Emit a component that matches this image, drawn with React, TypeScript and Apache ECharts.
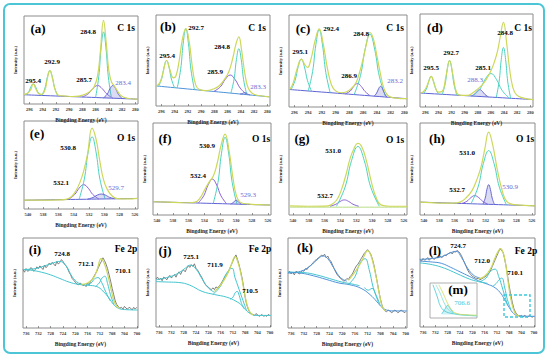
import React, { useEffect, useRef } from "react";
import * as echarts from "echarts";

// ---------- tick labels ----------
const C1S_TICKS = [296, 294, 292, 290, 288, 286, 284, 282, 280];
const O1S_TICKS = [540, 538, 536, 534, 532, 530, 528, 526];
const FE2P_TICKS = [736, 732, 728, 724, 720, 716, 712, 708, 704, 700];

// ---------- (a) C 1s ----------
const A_BG = [[296.8, 10.5], [279.6, 5.5]];
const A_P1 = [[296.5, 10.4], [296.06, 14.3], [295.73, 20], [295.4, 23], [295.07, 19.8], [294.74, 14.1], [294.3, 10]];
const A_P2 = [[294.1, 9.8], [293.62, 18.6], [293.26, 31.1], [292.9, 38], [292.54, 31.1], [292.18, 18.6], [291.7, 9.1]];
const A_P3 = [[288.0, 8.1], [287.08, 11.7], [286.39, 17.7], [285.7, 21], [285.01, 17.5], [284.32, 11.5], [283.4, 6.6]];
const A_P4 = [[286.0, 7.4], [285.52, 31], [285.16, 64], [284.8, 82], [284.44, 64], [284.08, 31], [283.6, 6.7]];
const A_P5 = [[284.8, 7], [284.24, 11.2], [283.82, 17.5], [283.4, 21], [282.98, 17.5], [282.56, 11.1], [282.0, 6.2]];
const A_ENV = [[296.8, 11], [296.2, 12.5], [295.8, 16], [295.4, 23], [295.0, 17], [294.6, 12], [294.1, 11], [293.6, 17], [293.3, 28], [292.9, 38], [292.5, 29], [292.1, 16], [291.6, 10], [290.5, 9], [289.5, 8.5], [288.5, 9], [287.6, 11], [286.8, 14.5], [286.2, 20], [285.7, 32], [285.3, 58], [284.8, 95], [284.4, 70], [284.0, 38], [283.6, 25], [283.2, 21], [282.7, 15], [282.1, 9], [281.2, 6.5], [279.6, 5.5]];

// ---------- (b) C 1s ----------
const B_BG = [[296.7, 22], [279.6, 10]];
const B_P1 = [[296.4, 21.8], [295.92, 30.6], [295.56, 43.4], [295.2, 50], [294.84, 42.9], [294.48, 29.7], [294.0, 20.1]];
const B_P2 = [[293.6, 19.8], [293.08, 40.3], [292.69, 69.2], [292.3, 85], [291.91, 68.9], [291.52, 39.6], [291.0, 18]];
const B_P3 = [[288.1, 16], [287.1, 21], [286.35, 29.3], [285.6, 34], [284.85, 28.9], [284.1, 19.7], [283.1, 12.5]];
const B_P4 = [[285.5, 14.2], [285.02, 29.5], [284.66, 51.3], [284.3, 63], [283.94, 50.9], [283.58, 28.8], [283.1, 12.5]];
const B_P5 = [[284.1, 13.2], [283.8, 13.6], [283.6, 14.4], [283.4, 14.8], [283.2, 14.2], [283.0, 13.2], [282.6, 12.1]];
const B_ENV = [[296.7, 22], [296.2, 26], [295.7, 38], [295.2, 50], [294.7, 40], [294.2, 31], [293.8, 33], [293.3, 50], [292.8, 74], [292.3, 85], [291.8, 71], [291.3, 42], [290.8, 23], [290.2, 18], [289.2, 17], [288.2, 18.5], [287.3, 22], [286.5, 29], [285.8, 38], [285.2, 53], [284.7, 69], [284.3, 76], [283.9, 62], [283.4, 36], [282.9, 20], [282.3, 14], [281.3, 11.5], [279.6, 10]];

// ---------- (c) C 1s ----------
const C_BG = [[296.7, 19], [279.6, 9]];
const C_P1 = [[296.5, 18.8], [295.9, 29.3], [295.45, 44], [295.0, 52], [294.55, 43.6], [294.1, 28.6], [293.5, 17.1]];
const C_P2 = [[294.0, 17.4], [293.36, 38.5], [292.88, 68], [292.4, 84], [291.92, 67.6], [291.44, 37.7], [290.8, 15.6]];
const C_P3 = [[288.6, 14.3], [287.88, 17.3], [287.34, 22.5], [286.8, 25.5], [286.26, 22.3], [285.72, 16.9], [285.0, 12.4]];
const C_P4 = [[287.3, 13.6], [286.38, 34.2], [285.69, 63.3], [285.0, 79], [284.31, 62.7], [283.62, 32.9], [282.7, 10.8]];
const C_P5 = [[284.4, 11.8], [284.02, 15.2], [283.74, 19.9], [283.45, 22.5], [283.16, 19.7], [282.88, 14.7], [282.5, 10.6]];
const C_ENV = [[296.7, 19], [296.2, 26], [295.6, 42], [295.0, 52], [294.5, 46], [294.1, 43], [293.6, 52], [293.0, 72], [292.4, 85], [291.8, 68], [291.2, 42], [290.6, 24], [290.0, 17.5], [289.2, 15.5], [288.4, 16.5], [287.6, 21], [287.0, 27], [286.5, 38], [286.0, 52], [285.5, 69], [285.0, 81], [284.5, 74], [284.0, 56], [283.5, 37], [283.0, 21], [282.4, 12.5], [281.4, 10], [279.6, 9]];

// ---------- (d) C 1s ----------
const D_BG = [[296.7, 15], [279.6, 8]];
const D_P1 = [[296.2, 14.8], [295.76, 20.6], [295.43, 28.6], [295.1, 33], [294.77, 28.4], [294.44, 20.2], [294.0, 14]];
const D_P2 = [[293.4, 13.7], [292.96, 25.2], [292.63, 41.3], [292.3, 50], [291.97, 41.1], [291.64, 24.8], [291.2, 12.8]];
const D_P3 = [[289.0, 11.9], [288.48, 13.9], [288.09, 17], [287.7, 18.7], [287.31, 16.8], [286.92, 13.5], [286.4, 10.9]];
const D_P4 = [[288.8, 11.8], [287.68, 19.3], [286.84, 30.3], [286.0, 36], [285.16, 29.6], [284.32, 18], [283.2, 9.5]];
const D_P5 = [[285.2, 10.3], [284.76, 27.2], [284.43, 51], [284.1, 64], [283.77, 51], [283.44, 27], [283.0, 9.4]];
const D_ENV = [[296.7, 15], [296.2, 17], [295.6, 25], [295.1, 33], [294.6, 24], [294.0, 16], [293.4, 17], [292.85, 33], [292.3, 50], [291.75, 33], [291.2, 15], [290.5, 12.5], [289.6, 12.5], [288.8, 15], [288.0, 19.5], [287.3, 24], [286.6, 31], [286.0, 39], [285.5, 48], [285.0, 60], [284.6, 75], [284.1, 91], [283.6, 68], [283.2, 43], [282.7, 22], [282.1, 13], [281.0, 9.5], [279.6, 8]];

// ---------- (e) O 1s ----------
const E_BG = [[540.5, 10], [525.6, 12]];
const E_P1 = [[534.7, 10.8], [533.9, 16.2], [533.3, 23.6], [532.7, 27.6], [532.1, 23.6], [531.5, 16.4], [530.7, 11.3]];
const E_P2 = [[533.3, 10.9], [532.62, 33.8], [532.11, 65], [531.6, 82], [531.09, 65], [530.58, 34], [529.9, 11.4]];
const E_P3 = [[532.2, 11.2], [531.48, 13.1], [530.94, 15.7], [530.4, 17], [529.86, 15.8], [529.32, 13.3], [528.6, 11.6]];
const E_ENV = [[540.5, 10], [538, 10], [536, 10.3], [535, 11], [534.3, 14], [533.7, 21], [533.2, 30], [532.7, 43], [532.2, 62], [531.6, 92], [531.1, 80], [530.6, 55], [530.1, 33], [529.6, 22], [529.0, 15], [528.3, 11.8], [527.2, 11.4], [525.6, 12]];

// ---------- (f) O 1s ----------
const F_BG = [[540.5, 14.4], [525.7, 10.8]];
const F_P1 = [[534.8, 13], [534.08, 21.1], [533.54, 32.7], [533.0, 39], [532.46, 32.6], [531.92, 20.9], [531.2, 12.2]];
const F_P2 = [[532.9, 12.5], [532.3, 35.3], [531.85, 67.1], [531.4, 84.5], [530.95, 67.1], [530.5, 35.3], [529.9, 11.8]];
const F_P3 = [[530.7, 11.9], [530.42, 13.1], [530.21, 15], [530.0, 16], [529.79, 15], [529.58, 13.1], [529.3, 11.6]];
const F_ENV = [[540.5, 14.4], [538, 13.8], [536, 13.3], [535.2, 14], [534.6, 18], [534.0, 27], [533.4, 36], [532.9, 42], [532.4, 56], [531.9, 76], [531.4, 88], [530.9, 70], [530.4, 40], [530.0, 22], [529.5, 14], [528.5, 12], [527.0, 11.2], [525.7, 10.8]];

// ---------- (g) O 1s ----------
const G_BG = [[540.5, 8.5], [525.6, 8.5]];
const G_P1 = [[535.3, 9.5], [534.58, 11.7], [534.04, 14.7], [533.5, 16.4], [532.96, 14.7], [532.42, 11.7], [531.7, 9.5]];
const G_P2 = [[534.5, 9.5], [533.42, 30.3], [532.61, 58.9], [531.8, 74.5], [530.99, 58.9], [530.18, 30.3], [529.1, 9.5]];
const G_ENV = [[540.5, 10], [538, 9.5], [536, 9.6], [535.2, 11], [534.5, 16], [533.9, 27], [533.3, 44], [532.8, 61], [532.3, 72], [531.8, 78], [531.3, 74], [530.7, 58], [530.1, 36], [529.5, 19], [528.9, 11], [527.8, 9.5], [525.6, 9.5]];

// ---------- (h) O 1s ----------
const H_BG = [[540.5, 14], [525.6, 10]];
const H_P1 = [[535.1, 12.5], [534.42, 14.9], [533.91, 18.9], [533.4, 21], [532.89, 18.9], [532.38, 14.9], [531.7, 11.6]];
const H_P2 = [[533.9, 12.2], [532.98, 30.3], [532.29, 56], [531.6, 70], [530.91, 56], [530.22, 30.3], [529.3, 11]];
const H_P3 = [[532.35, 11.8], [532.05, 18.4], [531.83, 27.9], [531.6, 33], [531.38, 27.9], [531.15, 18.4], [530.85, 11.4]];
const H_ENV = [[540.5, 14], [538, 13], [536.2, 12.8], [535.3, 14], [534.6, 18], [533.8, 26], [533.2, 37], [532.6, 52], [532.1, 72], [531.6, 90], [531.1, 77], [530.5, 50], [529.9, 28], [529.3, 15], [528.5, 11.5], [527.0, 10.5], [525.6, 10]];

// ---------- Fe 2p raw energies ----------
const FE_RAW_E = [737, 736.5, 736, 735.5, 735, 734.5, 734, 733.5, 733, 732.5, 732, 731.5, 731, 730.5, 730, 729.5, 729, 728.5, 728, 727.5, 727, 726.5, 726, 725.5, 725, 724.5, 724, 723.5, 723, 722.5, 722, 721.5, 721, 720.5, 720, 719.5, 719, 718.5, 718, 717.5, 717, 716.5, 716, 715.5, 715, 714.5, 714, 713.5, 713, 712.5, 712, 711.5, 711, 710.5, 710, 709.5, 709, 708.5, 708, 707.5, 707, 706.5, 706, 705.5, 705, 704.5, 704, 703.5, 703, 702.5, 702, 701.5, 701, 700.5, 700];

// ---------- (i) Fe 2p ----------
const I_RAW = [65, 62, 66, 63, 64, 67, 66, 63, 65, 68, 66, 69, 67, 65, 70, 67, 69, 72, 70, 73, 71, 69, 74, 71, 73, 76, 74, 71, 69, 66, 62, 59, 55, 53, 51, 49, 48, 50, 49, 47, 48, 46, 50, 48, 52, 54, 57, 60, 63, 67, 71, 74, 78, 75, 71, 66, 59, 52, 44, 37, 30, 26, 24, 22, 23, 21, 24, 22, 21, 23, 22, 20, 23, 21, 23];
const I_SAT = [[737, 65], [733, 66], [730, 69], [727, 72.5], [725, 74], [723, 69], [721, 57], [719, 50], [717, 48]];
const I_BG = [[737, 65], [734, 64], [731, 62], [728, 59], [725, 55], [722, 51], [719, 48.5], [716, 47.5], [713, 46], [711, 41], [709, 33], [707.5, 26], [706, 22], [704, 20.5], [699.6, 20]];
const I_P1 = [[716.5, 47.5], [714.9, 50], [713.8, 54.4], [712.6, 56], [711.4, 50.4], [710.2, 41], [708.6, 30]];
const I_P2 = [[713.4, 46], [712.2, 50], [711.3, 55.5], [710.4, 57.5], [709.5, 49.5], [708.6, 37.4], [707.4, 26]];
const I_ENV = [[718, 48.5], [716, 50], [714, 56], [712.8, 66], [711.6, 77], [710.6, 72], [709.5, 60], [708.5, 45], [707.5, 31], [706.5, 24], [705.5, 22]];

// ---------- (j) Fe 2p ----------
const J_RAW = [54, 56, 53, 55, 52, 56, 55, 53, 56, 58, 55, 57, 59, 56, 60, 62, 59, 63, 64, 62, 66, 69, 67, 70, 68, 71, 66, 64, 61, 58, 55, 51, 48, 46, 45, 43, 42, 44, 42, 45, 44, 46, 48, 51, 54, 57, 59, 62, 66, 70, 74, 78, 81, 76, 70, 63, 55, 45, 33, 25, 20, 16, 15, 14, 13, 15, 14, 12, 13, 14, 12, 13, 12, 14, 13];
const J_SAT = [[737, 53], [733, 56], [730, 60], [727.5, 66], [725.9, 69.5], [724, 65], [722, 54], [720, 44], [718, 39]];
const J_BG = [[737, 51], [733, 50.5], [729.6, 50], [726, 47], [722, 40], [718, 36.5], [714, 33.5], [711, 29], [709, 24], [707.5, 18], [706, 14.5], [704.5, 13], [699.6, 13]];
const J_P1 = [[718.5, 36.5], [716, 46], [714.2, 59.6], [712.3, 66], [711.3, 55.5], [709.4, 36.5], [707.5, 18]];
const J_P2 = [[712.8, 31], [711.9, 33.9], [711.26, 38.4], [710.6, 40], [709.94, 35.4], [709.3, 27.7], [708.4, 20.5]];
const J_ENV = [[718, 40], [716, 47], [714, 58], [712.5, 70], [711.3, 79], [710.3, 72], [709.3, 58], [708.3, 40], [707.3, 24], [706.3, 16], [705.3, 13.5]];

// ---------- (k) Fe 2p ----------
const K_RAW = [61, 63, 60, 62, 59, 63, 62, 60, 61, 64, 63, 66, 65, 68, 69, 71, 73, 75, 76, 78, 79, 81, 80, 82, 78, 80, 76, 74, 70, 66, 62, 59, 57, 55, 54, 52, 53, 55, 54, 57, 59, 62, 66, 69, 71, 74, 77, 80, 83, 85, 87, 85, 82, 77, 70, 61, 52, 42, 33, 26, 21, 19, 18, 20, 19, 17, 18, 20, 19, 17, 18, 20, 19, 17, 18];
const K_SAT = [[737, 61], [733, 63], [730, 69], [727.5, 77], [726, 80], [724.5, 77], [722.5, 66], [720.5, 56], [718.5, 52]];
const K_BG = [[737, 62], [733, 61], [729, 58], [725, 54], [721, 50], [717.5, 48], [714, 44], [711.2, 37], [709, 29], [707.5, 23], [706, 20], [704, 19], [699.6, 19]];
const K_TEAL = [[737, 62], [732, 61.5], [728, 59], [724, 55], [720, 51], [717, 49], [714.5, 47]];
const K_P1 = [[718, 48.5], [715.9, 57.4], [714.4, 72], [712.8, 77], [711.5, 65], [710.2, 44.9], [708.5, 28]];
const K_P2 = [[713, 45], [711.8, 42], [710.6, 44], [709.5, 38], [708, 25]];
const K_ENV = [[718, 53], [716, 62], [714, 73], [712.8, 82], [712, 86], [711.1, 82], [710.1, 70], [709.2, 55], [708.3, 38], [707.4, 24], [706.4, 19]];

// ---------- (l) Fe 2p ----------
const L_RAW = [76, 74, 77, 75, 76, 78, 75, 77, 78, 76, 77, 79, 78, 80, 78, 79, 81, 80, 82, 83, 84, 82, 85, 84, 86, 85, 83, 80, 76, 72, 68, 64, 61, 59, 57, 56, 55, 54, 55, 53, 54, 55, 56, 57, 59, 61, 64, 68, 72, 76, 80, 84, 88, 86, 84, 77, 68, 57, 46, 37, 28, 21, 17, 14, 13, 12, 13, 11, 13, 12, 11, 13, 12, 11, 12];
const L_SAT = [[737, 76], [733, 77], [730, 79], [727, 83.5], [725.3, 85], [723.5, 78], [721.5, 66], [719.5, 58], [717.5, 55]];
const L_BG = [[737, 74], [733, 73], [730, 71.5], [727, 67], [724, 62], [721, 57], [718, 52], [715, 48], [713, 45], [711, 39], [709.5, 31], [708, 22], [706.5, 15], [705, 12.5], [699.6, 12]];
const L_TEAL = [[737, 72], [733, 70], [729, 66], [725, 60], [721, 54], [718, 51], [715, 49]];
const L_P1 = [[717.5, 51], [715.5, 55.1], [714.1, 62.6], [712.6, 65], [711.4, 56.6], [710.1, 42.6], [708.5, 24]];
const L_P2 = [[713.4, 45.5], [712.2, 49], [711.3, 53], [710.4, 55], [709.5, 45], [708.6, 31], [707.4, 19]];
const L_ENV = [[718, 54], [716, 57], [714, 66], [712.8, 76], [711.6, 85], [710.8, 88], [710, 84], [709.2, 72], [708.4, 52], [707.6, 34], [706.8, 22], [705.8, 14], [704.8, 12.5]];

// ---------- (m) inset ----------
const M_C1 = [[715, 95], [713.5, 60], [712.5, 35], [711, 20], [708, 12], [704, 8], [700, 6]];
const M_C2 = [[714, 95], [712.5, 70], [711, 40], [709.5, 22], [707, 12], [703, 8], [700, 7]];
const M_C3 = [[713, 95], [711.5, 70], [710, 42], [708.5, 22], [706.5, 12], [703, 9], [700, 8]];
const M_PK = [[712, 12], [711, 24], [710, 36], [709, 26], [708, 13]];

// ---------- styling / layout ----------
const SERIF = "'Liberation Serif', 'DejaVu Serif', serif";
const COL: Record<string, string> = {
  env: "#cdd85a",
  teal: "#4bd3c1",
  purple: "#8b62d8",
  blue: "#6a6ad2",
  bg: "#5e63d6",
  raw: "#707070",
  fteal: "#43c6cf",
  fblue: "#4f93da",
  green: "#b9dd84",
  cyan: "#3cc8dc",
};

const RANGES: Record<string, [number, number, number[]]> = {
  C: [279.6, 296.8, C1S_TICKS],
  O: [525.6, 540.5, O1S_TICKS],
  F: [699.6, 737, FE2P_TICKS],
};

const RECTS = [
  [24, 16, 114, 88], [156, 15, 114, 91], [289, 15, 118, 92], [420, 14, 113, 93],
  [24, 121, 114, 88], [153, 123, 118, 92], [289, 123, 118, 92], [420, 123, 115, 92],
  [23, 238, 115, 90], [156, 238, 115, 89], [288, 238, 119, 90], [420, 238, 115, 89],
];

const rawPairs = (vals: number[]) => FE_RAW_E.map((e, i) => [e, vals[i]]);

type Curve = [string, number[][], number?];
const PANELS: { ax: string; curves: Curve[] }[] = [
  { ax: "C", curves: [["bg", A_BG], ["teal", A_P1], ["teal", A_P2], ["purple", A_P3], ["teal", A_P4], ["blue", A_P5, 6.5], ["env", A_ENV]] },
  { ax: "C", curves: [["fblue", B_BG], ["teal", B_P1], ["teal", B_P2], ["purple", B_P3], ["teal", B_P4], ["blue", B_P5, 12.4], ["env", B_ENV]] },
  { ax: "C", curves: [["bg", C_BG], ["teal", C_P1], ["teal", C_P2], ["purple", C_P3], ["teal", C_P4], ["blue", C_P5, 11], ["env", C_ENV]] },
  { ax: "C", curves: [["bg", D_BG], ["teal", D_P1], ["teal", D_P2], ["blue", D_P3, 11.4], ["teal", D_P4], ["teal", D_P5], ["env", D_ENV]] },
  { ax: "O", curves: [["bg", E_BG], ["purple", E_P1], ["teal", E_P2], ["blue", E_P3, 11.3], ["env", E_ENV]] },
  { ax: "O", curves: [["bg", F_BG], ["purple", F_P1], ["teal", F_P2], ["blue", F_P3, 11.8], ["env", F_ENV]] },
  { ax: "O", curves: [["green", G_BG], ["purple", G_P1], ["env", G_ENV], ["teal", G_P2]] },
  { ax: "O", curves: [["bg", H_BG], ["purple", H_P1], ["teal", H_P2], ["blue", H_P3, 11.6], ["env", H_ENV]] },
  { ax: "F", curves: [["raw", rawPairs(I_RAW)], ["fteal", I_BG], ["fteal", I_SAT], ["fteal", I_P1], ["fteal", I_P2], ["env", I_ENV]] },
  { ax: "F", curves: [["raw", rawPairs(J_RAW)], ["fteal", J_BG], ["fteal", J_SAT], ["fteal", J_P1], ["fteal", J_P2], ["env", J_ENV]] },
  { ax: "F", curves: [["raw", rawPairs(K_RAW)], ["fblue", K_BG], ["fteal", K_TEAL], ["fblue", K_SAT], ["fteal", K_P1], ["fteal", K_P2], ["env", K_ENV]] },
  { ax: "F", curves: [["raw", rawPairs(L_RAW)], ["fblue", L_BG], ["fteal", L_TEAL], ["fblue", L_SAT], ["fteal", L_P1], ["fteal", L_P2], ["env", L_ENV]] },
];

// [text, x, y, size, color, weight]
const TEXTS: [string, number, number, number, string, string][] = [
  ["(a)", 38, 28, 13, "#000", "bold"], ["(b)", 168, 26, 13, "#000", "bold"], ["(c)", 303, 28, 13, "#000", "bold"], ["(d)", 435, 27, 13, "#000", "bold"],
  ["(e)", 37, 133, 13, "#000", "bold"], ["(f)", 165, 138, 13, "#000", "bold"], ["(g)", 302, 138, 13, "#000", "bold"], ["(h)", 437, 138, 13, "#000", "bold"],
  ["(i)", 35, 249, 13, "#000", "bold"], ["(j)", 165, 250, 13, "#000", "bold"], ["(k)", 305, 247, 13, "#000", "bold"], ["(l)", 435, 250, 13, "#000", "bold"],
  ["(m)", 458, 289, 13, "#000", "bold"],
  ["C 1s", 126, 28, 9.5, "#000", "bold"], ["C 1s", 257, 28, 9.5, "#000", "bold"], ["C 1s", 395, 28, 9.5, "#000", "bold"], ["C 1s", 523, 28, 9.5, "#000", "bold"],
  ["O 1s", 126, 138, 9.5, "#000", "bold"], ["O 1s", 261, 139, 9.5, "#000", "bold"], ["O 1s", 395, 140, 9.5, "#000", "bold"], ["O 1s", 525, 139, 9.5, "#000", "bold"],
  ["Fe 2p", 126, 249, 9.5, "#000", "bold"], ["Fe 2p", 260, 249, 9.5, "#000", "bold"], ["Fe 2p", 526, 251, 9.5, "#000", "bold"],
  ["295.4", 33, 81, 7, "#000", "bold"], ["292.9", 52, 62, 7, "#000", "bold"], ["284.8", 88, 32, 7, "#000", "bold"], ["285.7", 84, 80, 7, "#000", "bold"], ["283.4", 123, 83, 7, "#6b6bd2", "normal"],
  ["295.4", 167, 56, 7, "#000", "bold"], ["292.7", 196, 28, 7, "#000", "bold"], ["284.8", 222, 47, 7, "#000", "bold"], ["285.9", 215, 72, 7, "#000", "bold"], ["283.3", 258, 87, 7, "#6b6bd2", "normal"],
  ["295.1", 300, 52, 7, "#000", "bold"], ["292.4", 331, 29, 7, "#000", "bold"], ["284.8", 361, 34, 7, "#000", "bold"], ["286.9", 349, 76, 7, "#000", "bold"], ["283.2", 395, 81, 7, "#6b6bd2", "normal"],
  ["295.5", 431, 68, 7, "#000", "bold"], ["292.7", 451, 53, 7, "#000", "bold"], ["284.8", 505, 33, 7, "#000", "bold"], ["285.1", 483, 68, 7, "#000", "bold"], ["288.3", 475, 80, 7, "#6b6bd2", "normal"],
  ["530.8", 68, 148, 7, "#000", "bold"], ["532.1", 61, 183, 7, "#000", "bold"], ["529.7", 116, 188, 7, "#6b6bd2", "normal"],
  ["530.9", 207, 146, 7, "#000", "bold"], ["532.4", 198, 176, 7, "#000", "bold"], ["529.3", 248, 195, 7, "#6b6bd2", "normal"],
  ["531.0", 333, 151, 7, "#000", "bold"], ["532.7", 325, 196, 7, "#000", "bold"],
  ["531.0", 467, 153, 7, "#000", "bold"], ["532.7", 457, 190, 7, "#000", "bold"], ["530.9", 510, 187, 7, "#6b6bd2", "normal"],
  ["724.8", 62, 254, 7, "#000", "bold"], ["712.1", 86, 264, 7, "#000", "bold"], ["710.1", 123, 271, 7, "#000", "bold"],
  ["725.1", 191, 257, 7, "#000", "bold"], ["711.9", 215, 265, 7, "#000", "bold"], ["710.5", 250, 291, 7, "#000", "bold"],
  ["724.7", 458, 246, 7, "#000", "bold"], ["712.0", 482, 261, 7, "#000", "bold"], ["710.1", 515, 273, 7, "#000", "bold"],
  ["706.6", 462, 303, 7, COL.cyan, "normal"],
];

function buildOption() {
  const grid: any[] = [];
  const xAxis: any[] = [];
  const yAxis: any[] = [];
  const series: any[] = [];

  RECTS.forEach(([l, t, w, h], i) => {
    const [mn, mx, ticks] = RANGES[PANELS[i].ax];
    grid.push({ left: l, top: t, width: w, height: h, show: true, borderColor: "#8c8c8c", borderWidth: 1 });
    xAxis.push({
      type: "value", gridIndex: i, min: mn, max: mx, inverse: true,
      axisLine: { show: false }, splitLine: { show: false },
      axisTick: { show: true, inside: true, length: 2, customValues: ticks, lineStyle: { color: "#555", width: 0.6 } },
      axisLabel: { customValues: ticks, fontSize: 4.5, fontFamily: SERIF, fontWeight: "bold", color: "#333", margin: 3 },
      name: "Bingding Energy (eV)", nameLocation: "middle", nameGap: 13,
      nameTextStyle: { fontSize: 5.5, fontFamily: SERIF, fontWeight: "bold", color: "#222" },
    });
    yAxis.push({
      type: "value", gridIndex: i, min: 0, max: 100,
      axisLine: { show: false }, axisTick: { show: false }, axisLabel: { show: false }, splitLine: { show: false },
      name: "Intensity (a.u.)", nameLocation: "middle", nameGap: 6, nameRotate: 90,
      nameTextStyle: { fontSize: 4.5, fontFamily: SERIF, fontWeight: "bold", color: "#222" },
    });
    PANELS[i].curves.forEach(([kind, data, origin], j) => {
      const isRaw = kind === "raw";
      const s: any = {
        type: "line", xAxisIndex: i, yAxisIndex: i, data, symbol: "none", silent: true,
        smooth: isRaw ? false : 0.45,
        z: 2 + j,
        lineStyle: { color: kind === "blue" ? COL.blue : COL[kind], width: isRaw ? 0.9 : kind === "env" ? 1.2 : 1 },
      };
      if (kind === "blue") s.areaStyle = { color: "rgba(108,108,210,0.35)", origin: origin ?? "auto" };
      series.push(s);
    });
  });

  // inset (m)
  const mi = 12;
  grid.push({ left: 430, top: 283, width: 47, height: 35, show: true, borderColor: "#9a9a9a", borderWidth: 0.8, backgroundColor: "#fff", z: 5 });
  xAxis.push({ type: "value", gridIndex: mi, min: 700, max: 716, inverse: true, axisLine: { show: false }, splitLine: { show: false }, axisTick: { show: false }, axisLabel: { show: false } });
  yAxis.push({ type: "value", gridIndex: mi, min: 0, max: 100, axisLine: { show: false }, splitLine: { show: false }, axisTick: { show: false }, axisLabel: { show: false } });
  const inset: [number[][], string, any?][] = [
    [M_PK, COL.cyan, { color: "rgba(60,200,220,0.35)", origin: 10 }],
    [M_C1, COL.fteal], [M_C2, "#7fe0d4"], [M_C3, COL.env],
  ];
  inset.forEach(([d, c, area]) => {
    const s: any = { type: "line", xAxisIndex: mi, yAxisIndex: mi, data: d, symbol: "none", silent: true, smooth: 0.45, z: 6, lineStyle: { color: c, width: 0.8 } };
    if (area) s.areaStyle = area;
    series.push(s);
  });

  const graphic: any[] = [
    { type: "rect", shape: { x: 4, y: 4, width: 540, height: 349, r: 6 }, style: { fill: "none", stroke: "#4cc6d6", lineWidth: 2 }, z: 100 },
    { type: "rect", shape: { x: 504, y: 295, width: 26, height: 22 }, style: { fill: "none", stroke: COL.cyan, lineWidth: 1.4, lineDash: [3, 2] }, z: 100 },
  ];
  TEXTS.forEach(([t, x, y, size, color, weight]) => {
    graphic.push({
      type: "text", x, y, z: 101,
      style: { text: t, fill: color, fontSize: size, fontFamily: SERIF, fontWeight: weight, textAlign: "center", textVerticalAlign: "middle" },
    });
  });

  return { animation: false, backgroundColor: "#fff", grid, xAxis, yAxis, series, graphic };
}

export default function App() {
  const ref = useRef<HTMLDivElement>(null);
  useEffect(() => {
    if (!ref.current) return;
    const chart = echarts.init(ref.current, null, { renderer: "svg" });
    chart.setOption(buildOption() as any);
    return () => chart.dispose();
  }, []);
  return <div ref={ref} style={{ position: "absolute", left: 0, top: 0, width: 550, height: 361, background: "#fff" }} />;
}
